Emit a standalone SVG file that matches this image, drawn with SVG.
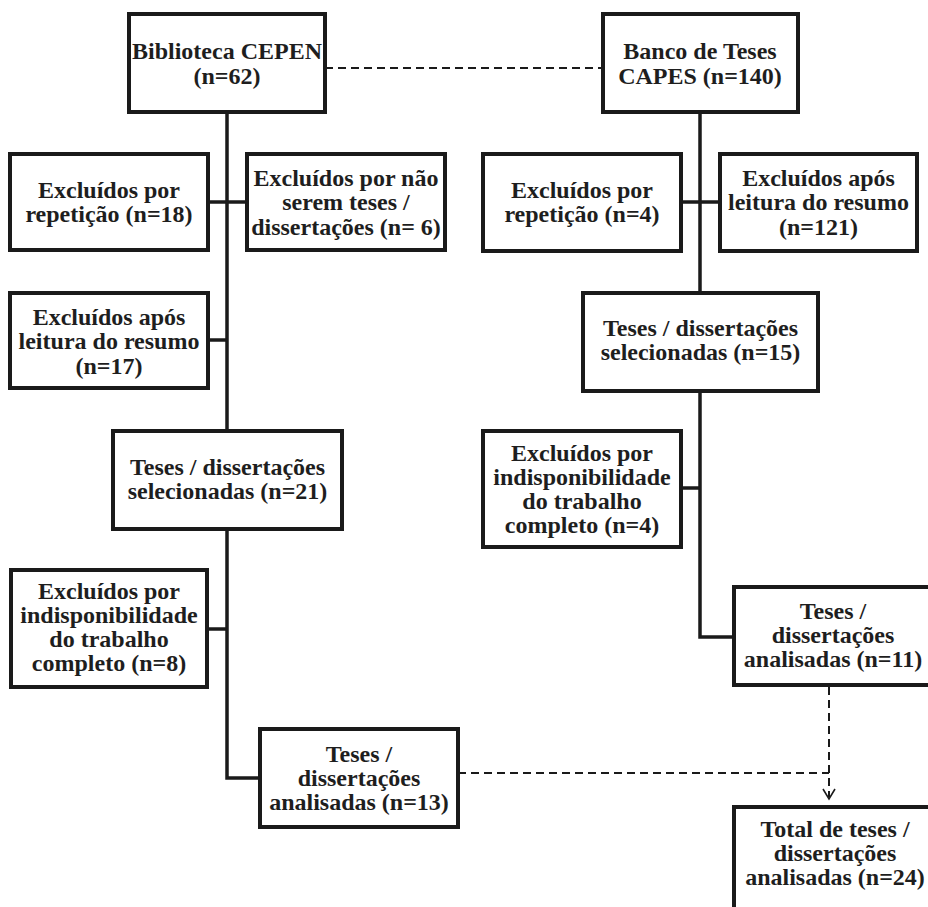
<svg xmlns="http://www.w3.org/2000/svg" width="928" height="907" viewBox="0 0 928 907">
<defs>
<style>
.box{fill:#fff;stroke:#1a1a1a;stroke-width:4}
.t{font-family:"Liberation Serif","Times New Roman",serif;font-weight:bold;font-size:24px;fill:#1e1e1e;text-anchor:middle}
.ln{fill:none;stroke:#1a1a1a;stroke-width:3.5}
.dash{fill:none;stroke:#1a1a1a;stroke-width:2;stroke-dasharray:8 5}
</style>
</defs>
<rect width="928" height="907" fill="#fff"/>
<g id="connectors">
<path class="ln" d="M227 112 V778 H260"/>
<path class="ln" d="M208 202 H247"/>
<path class="ln" d="M208 340 H227"/>
<path class="ln" d="M207 629 H227"/>
<path class="ln" d="M700 112 V637 H734"/>
<path class="ln" d="M681 202 H720"/>
<path class="ln" d="M681 488 H700"/>
<path class="dash" d="M325 68 H603"/>
<path class="dash" d="M458 773 H829"/>
<path class="dash" d="M829 687 V797"/>
<path fill="none" stroke="#1a1a1a" stroke-width="1.6" d="M823 789 L829 799 L835 789"/>
</g>
<g id="cepen">
<rect class="box" x="129" y="14" width="196" height="98"/>
<text class="t" x="227" y="59">Biblioteca CEPEN</text>
<text class="t" x="227" y="84">(n=62)</text>
</g>
<g id="capes">
<rect class="box" x="603" y="14" width="195" height="98"/>
<text class="t" x="700" y="59">Banco de Teses</text>
<text class="t" x="700" y="84">CAPES (n=140)</text>
</g>
<g id="rep18">
<rect class="box" x="10" y="154" width="198" height="96"/>
<text class="t" x="109" y="198">Excluídos por</text>
<text class="t" x="109" y="222">repetição (n=18)</text>
</g>
<g id="naoteses">
<rect class="box" x="247" y="154" width="198" height="96"/>
<text class="t" x="346" y="186">Excluídos por não</text>
<text class="t" x="346" y="210">serem teses /</text>
<text class="t" x="346" y="235">dissertações (n= 6)</text>
</g>
<g id="apos17">
<rect class="box" x="10" y="293" width="198" height="95"/>
<text class="t" x="109" y="325">Excluídos após</text>
<text class="t" x="109" y="349">leitura do resumo</text>
<text class="t" x="109" y="374">(n=17)</text>
</g>
<g id="sel21">
<rect class="box" x="113" y="431" width="229" height="98"/>
<text class="t" x="227.5" y="475">Teses / dissertações</text>
<text class="t" x="227.5" y="499">selecionadas (n=21)</text>
</g>
<g id="indisp8">
<rect class="box" x="11" y="570" width="196" height="117"/>
<text class="t" x="109" y="599">Excluídos por</text>
<text class="t" x="109" y="623">indisponibilidade</text>
<text class="t" x="109" y="647">do trabalho</text>
<text class="t" x="109" y="671">completo  (n=8)</text>
</g>
<g id="anal13">
<rect class="box" x="260" y="729" width="198" height="98"/>
<text class="t" x="359" y="762">Teses /</text>
<text class="t" x="359" y="786">dissertações</text>
<text class="t" x="359" y="810">analisadas (n=13)</text>
</g>
<g id="rep4">
<rect class="box" x="483" y="154" width="198" height="97"/>
<text class="t" x="582" y="198">Excluídos por</text>
<text class="t" x="582" y="222">repetição (n=4)</text>
</g>
<g id="apos121">
<rect class="box" x="720" y="154" width="197" height="97"/>
<text class="t" x="818.5" y="186">Excluídos após</text>
<text class="t" x="818.5" y="210">leitura do resumo</text>
<text class="t" x="818.5" y="235">(n=121)</text>
</g>
<g id="sel15">
<rect class="box" x="583" y="293" width="235" height="98"/>
<text class="t" x="700.5" y="336">Teses / dissertações</text>
<text class="t" x="700.5" y="360">selecionadas (n=15)</text>
</g>
<g id="indisp4">
<rect class="box" x="483" y="431" width="198" height="116"/>
<text class="t" x="582" y="461">Excluídos por</text>
<text class="t" x="582" y="485">indisponibilidade</text>
<text class="t" x="582" y="509">do trabalho</text>
<text class="t" x="582" y="533">completo (n=4)</text>
</g>
<g id="anal11">
<rect class="box" x="734" y="587" width="198" height="98"/>
<text class="t" x="833" y="619">Teses /</text>
<text class="t" x="833" y="643">dissertações</text>
<text class="t" x="833" y="667">analisadas (n=11)</text>
</g>
<g id="total24">
<rect class="box" x="734" y="807" width="198" height="110"/>
<text class="t" x="835" y="837">Total de teses /</text>
<text class="t" x="835" y="861">dissertações</text>
<text class="t" x="835" y="885">analisadas (n=24)</text>
</g>
</svg>
